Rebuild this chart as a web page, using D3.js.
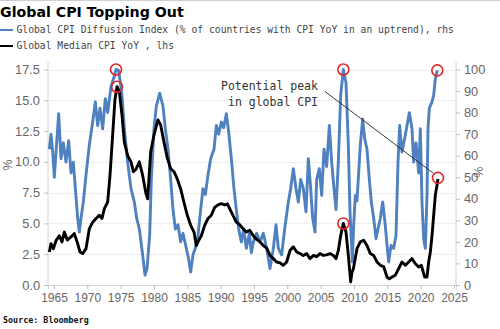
<!DOCTYPE html>
<html><head><meta charset="utf-8">
<script src="https://cdn.jsdelivr.net/npm/d3@7"></script>
<style>html,body{margin:0;padding:0;background:#fff;overflow:hidden}</style>
</head><body><svg id="c" width="500" height="329"></svg>
<script>
const diffusionYears = [1964.3,1964.55,1964.8,1965.05,1965.4,1965.7,1966.05,1966.4,1966.8,1967.2,1967.55,1967.9,1968.3,1968.55,1968.8,1969.05,1969.4,1969.8,1970.3,1970.8,1971.2,1971.55,1971.9,1972.3,1972.7,1973.05,1973.55,1974.05,1974.3,1974.7,1975.2,1975.55,1976.05,1976.55,1977.05,1977.4,1977.8,1978.3,1978.65,1978.95,1979.35,1979.6,1980.0,1980.35,1980.85,1981.35,1981.7,1982.1,1982.5,1982.85,1983.2,1983.6,1984.0,1984.35,1984.85,1985.2,1985.5,1985.85,1986.2,1986.6,1987.0,1987.35,1987.7,1988.1,1988.5,1989.0,1989.35,1989.7,1990.1,1990.45,1990.85,1991.2,1991.6,1992.0,1992.35,1992.7,1993.1,1993.45,1993.85,1994.3,1994.6,1994.9,1995.4,1995.9,1996.4,1996.9,1997.4,1997.9,1998.3,1998.65,1999.15,1999.6,2000.15,2000.5,2000.9,2001.3,2001.65,2002.0,2002.4,2002.8,2003.15,2003.45,2003.8,2004.15,2004.4,2004.8,2005.15,2005.5,2005.9,2006.3,2006.65,2007.0,2007.3,2007.65,2008.0,2008.4,2008.8,2009.15,2009.4,2009.75,2009.95,2010.2,2010.45,2010.7,2010.95,2011.3,2011.6,2011.95,2012.3,2012.6,2012.95,2013.3,2013.6,2013.95,2014.3,2014.65,2014.95,2015.2,2015.55,2015.95,2016.3,2016.6,2016.85,2017.2,2017.6,2017.95,2018.3,2018.7,2018.95,2019.3,2019.7,2019.95,2020.2,2020.45,2020.7,2020.95,2021.1,2021.3,2021.7,2021.95,2022.2,2022.5];
const diffusionValues = [63,70,62,50,66,79.5,58.6,66,57,67,52,57,41,31,24.6,31,38.5,51,65,75.6,85,74,82,72.5,86.5,80,92,97,100,99.6,88,72.5,57,44.7,38.5,31,26,14,4.6,7.6,23,49,72.5,83,89,83,72.5,63,49,35,26,28,20,24,17,12,6,14,17,23,35,44.7,42,51,58.6,63,74,70,75.6,73,79.5,71,58.6,44.7,35,26,20,26,17,24,15,20,24,20,24,17,7.6,17,28,17,14,26,38.5,44.7,54,44.7,38.5,49,44.7,34,58.6,47,31,24.6,49,54,41.6,63,55,74,57,44.7,35,57,88,100,94,65,34,10.7,27.7,41.6,39,52,65,77,68,63,49,38.5,31,21.5,26,31,38.5,29,18.4,10.7,18.4,17,23,57,74,61.7,68,74,80,72.5,57,66,52,72.5,38.5,21.5,17,41.6,72.5,82,85,88,95.7,99.6];

const cpiYears = [1964.3,1964.55,1964.9,1965.3,1965.8,1966.2,1966.55,1967.0,1967.55,1968.05,1968.55,1968.9,1969.3,1969.8,1970.3,1970.8,1971.3,1971.8,1972.2,1972.55,1973.05,1973.4,1973.8,1974.15,1974.45,1974.8,1975.2,1975.55,1976.05,1976.55,1976.9,1977.3,1977.8,1978.3,1978.8,1979.05,1979.5,1980.0,1980.6,1981.0,1981.5,1982.0,1982.5,1983.0,1983.5,1984.0,1984.5,1985.0,1985.5,1986.0,1986.35,1986.7,1987.1,1987.6,1988.1,1988.6,1989.1,1989.6,1990.1,1990.6,1991.0,1991.35,1991.85,1992.35,1992.85,1993.35,1993.85,1994.35,1994.9,1995.4,1995.9,1996.4,1996.9,1997.4,1997.9,1998.4,1998.9,1999.4,1999.9,2000.4,2000.9,2001.4,2001.9,2002.4,2002.9,2003.4,2003.9,2004.4,2004.9,2005.4,2005.9,2006.4,2006.9,2007.3,2007.65,2008.0,2008.4,2008.8,2009.15,2009.5,2009.7,2009.9,2010.45,2010.95,2011.45,2011.95,2012.45,2012.95,2013.45,2013.95,2014.45,2014.95,2015.3,2015.7,2016.2,2016.7,2017.2,2017.7,2018.2,2018.7,2019.2,2019.7,2020.1,2020.6,2020.95,2021.2,2021.45,2021.7,2021.95,2022.2,2022.45,2022.6];
const cpiValues = [2.68,3.36,2.95,3.6,4.0,3.5,4.3,3.65,3.9,4.17,3.36,2.68,2.55,2.95,4.57,5.1,5.4,5.66,5.4,6.2,6.74,8.9,12.2,15.1,16.1,15.7,13.8,11.6,10.5,10.0,9.2,9.4,10.0,8.9,7.4,7.0,10.8,12.2,13.4,13.0,11.6,10.3,9.45,9.2,8.6,7.8,6.7,5.66,4.85,4.3,3.2,3.6,4.0,4.85,5.4,5.66,6.3,6.5,6.6,6.5,6.6,6.2,5.66,5.1,4.9,4.57,4.3,4.45,4.0,3.7,3.5,3.2,3.0,2.4,2.14,1.87,1.8,1.6,1.87,2.8,3.1,2.68,2.55,2.4,2.55,2.14,2.4,2.3,2.55,2.4,2.45,2.55,2.4,2.14,2.8,4.0,5.0,4.3,2.4,0.25,1.05,1.3,2.95,3.5,3.63,3.2,2.55,2.4,1.87,1.6,1.5,0.65,0.5,0.65,0.8,1.33,1.87,1.6,1.87,2.14,1.73,1.46,1.6,0.65,0.65,1.87,2.68,4.0,5.66,7.3,8.1,8.6];

const yearTicks = [1965,1970,1975,1980,1985,1990,1995,2000,2005,2010,2015,2020,2025];
const leftTicks = [0,2.5,5,7.5,10,12.5,15,17.5];
const rightTicks = [0,10,20,30,40,50,60,70,80,90,100];

// highlighted points: [year, value, axis]
const circleYears = [1974.3,1974.45,2008.4,2008.4,2022.5,2022.6];
const circleValues = [100,16.1,100,5.0,99.6,8.7];
const circleAxis = ["r","l","r","l","r","l"];

const titleText = "Global CPI Topping Out";
const legendLabels = ["Global CPI Diffusion Index (% of countries with CPI YoY in an uptrend), rhs","Global Median CPI YoY , lhs"];
const annotationLines = ["Potential peak","in global CPI"];
const sourceText = "Source: Bloomberg";

const svg = d3.select("#c");
const L = 48, R = 456, T = 62, B = 285;
const x = d3.scaleLinear().domain([1964.1, 2025.3]).range([L, R]);
const yl = d3.scaleLinear().domain([0, 17.5]).range([B, 69.5]);
const yr = d3.scaleLinear().domain([0, 100]).range([B, 69.5]);

svg.append("line").attr("x1",0).attr("x2",500).attr("y1",0.5).attr("y2",0.5).attr("stroke","#cfcfcf");

// gridlines
svg.append("g").selectAll("line").data(leftTicks.filter(d=>d>0)).join("line")
  .attr("x1",L).attr("x2",R).attr("y1",d=>Math.round(yl(d))+0.5).attr("y2",d=>Math.round(yl(d))+0.5)
  .attr("stroke","#eeeeee").attr("stroke-width",1);

const labelColor = "#666666";
// axes
const gx = svg.append("g").attr("transform",`translate(0,${B})`)
  .call(d3.axisBottom(x).tickValues(yearTicks).tickFormat(d3.format("d")).tickSizeOuter(0).tickSize(4).tickPadding(4));
const gl = svg.append("g").attr("transform",`translate(${L},0)`)
  .call(d3.axisLeft(yl).tickValues(leftTicks).tickFormat(d3.format(".1f")).tickSizeOuter(0).tickSize(4).tickPadding(4));
const gr = svg.append("g").attr("transform",`translate(${R},0)`)
  .call(d3.axisRight(yr).tickValues(rightTicks).tickFormat(d3.format("d")).tickSizeOuter(0).tickSize(4).tickPadding(4));
[gx,gl,gr].forEach(g=>{
  g.select(".domain").attr("stroke","#d4d4d4");
  g.selectAll(".tick line").attr("stroke","#bdbdbd");
  g.selectAll(".tick text").attr("fill",labelColor).attr("font-family","Liberation Sans, Arial, sans-serif").attr("font-size","12.8px");
});
gx.selectAll(".tick text").attr("font-size","12px");
gl.select(".domain").attr("d",`M0,${T}V${B}`);
gr.select(".domain").attr("d",`M0,${T}V${B}`);

svg.append("text").attr("transform","translate(12,165) rotate(-90)").attr("text-anchor","middle")
  .attr("fill",labelColor).attr("font-family","Liberation Sans, Arial, sans-serif").attr("font-size","12px").text("%");
svg.append("text").attr("transform","translate(474,172) rotate(90)").attr("text-anchor","middle")
  .attr("fill",labelColor).attr("font-family","Liberation Sans, Arial, sans-serif").attr("font-size","12px").text("%");

// lines
const blueData = diffusionYears.map((d,i)=>[d,diffusionValues[i]]);
const blackData = cpiYears.map((d,i)=>[d,cpiValues[i]]);
svg.append("path").datum(blueData).attr("fill","none").attr("stroke","#4f81c0").attr("stroke-width",2.9)
  .attr("stroke-linejoin","round").attr("d",d3.line().x(d=>x(d[0])).y(d=>yr(d[1])));
svg.append("path").datum(blackData).attr("fill","none").attr("stroke","#000").attr("stroke-width",2.9)
  .attr("stroke-linejoin","round").attr("d",d3.line().x(d=>x(d[0])).y(d=>yl(d[1])));

// annotation
const tgtX = x(circleYears[5]), tgtY = yl(circleValues[5]);
svg.append("line").attr("x1",325).attr("y1",91.5).attr("x2",tgtX-4.5).attr("y2",tgtY-4.5)
  .attr("stroke","#222").attr("stroke-width",0.9);
svg.append("g").selectAll("text").data(annotationLines).join("text")
  .attr("x",(d,i)=>i===0?221:228).attr("y",(d,i)=>90+i*15.5)
  .attr("font-family","DejaVu Sans Mono, monospace").attr("font-size","11.5px").attr("fill","#333").text(d=>d);

// circles
svg.append("g").selectAll("circle").data(circleYears.map((d,i)=>i)).join("circle")
  .attr("cx",i=>x(circleYears[i])).attr("cy",i=>circleAxis[i]==="r"?yr(circleValues[i]):yl(circleValues[i]))
  .attr("r",5.5).attr("fill","none").attr("stroke","#e0262b").attr("stroke-width",1.6);

// title & legend
svg.append("text").attr("x",0).attr("y",17).attr("font-family","DejaVu Sans, Verdana, sans-serif")
  .attr("font-weight","bold").attr("font-size","14.2px").attr("fill","#000").text(titleText);
const legColors = ["#4f81c0","#000"];
legendLabels.forEach((t,i)=>{
  const yy = 30 + i*16;
  svg.append("line").attr("x1",0).attr("x2",13).attr("y1",yy).attr("y2",yy).attr("stroke",legColors[i]).attr("stroke-width",2);
  svg.append("text").attr("x",16.5).attr("y",yy+3.3).attr("font-family","DejaVu Sans Mono, monospace")
    .attr("font-size","9.7px").attr("fill","#444").text(t);
});
svg.append("text").attr("x",3).attr("y",323).attr("font-family","DejaVu Sans Mono, monospace")
  .attr("font-weight","bold").attr("font-size","8.4px").attr("fill","#111").text(sourceText);
</script></body></html>
